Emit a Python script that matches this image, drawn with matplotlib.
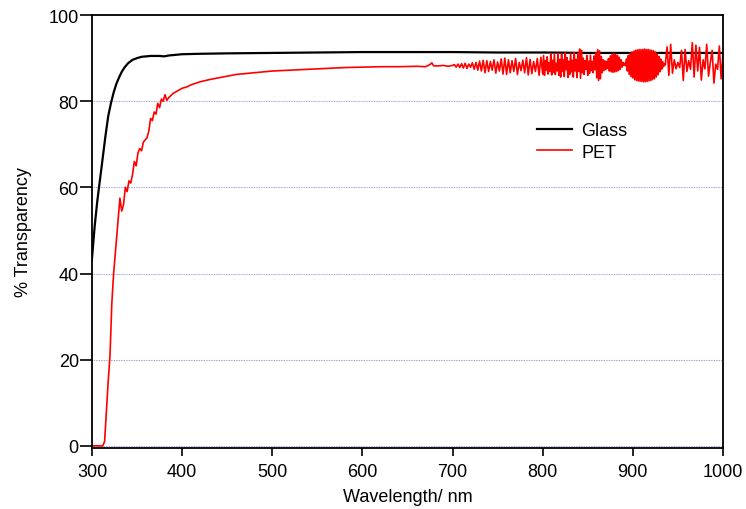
import numpy as np
import matplotlib
matplotlib.use("Agg")
import matplotlib.pyplot as plt

plt.rcParams['font.family'] = ['Liberation Sans', 'DejaVu Sans']

# glass substrate transmission
glass_wl = [300, 303, 306, 309, 312, 315, 318, 321, 324, 327, 330, 333, 336, 340,
            345, 350, 355, 360, 365, 370, 375, 380, 385, 390, 400, 420, 450, 500,
            550, 600, 650, 700, 750, 800, 850, 900, 950, 1000]
glass_t = [43.5, 51, 57, 62, 67, 72, 76.5, 79.5, 82, 84, 85.5, 86.8, 87.8, 88.8,
           89.6, 90.0, 90.3, 90.4, 90.5, 90.5, 90.5, 90.4, 90.6, 90.7, 90.9, 91.0,
           91.1, 91.2, 91.3, 91.4, 91.4, 91.4, 91.3, 91.3, 91.2, 91.2, 91.2, 91.2]

# PET film, UV edge and visible part
pet_wl_a = [300, 312, 314, 316, 318, 320, 322, 324, 326, 328, 330, 331, 333, 335,
            337, 339, 341, 343, 345, 347, 349, 351, 353, 355, 357, 359, 361, 363,
            365, 367, 369, 371, 373, 375, 377, 379, 381, 383, 385, 390, 395, 400,
            405, 410, 420, 430, 440, 450, 460, 470, 480, 490, 500, 520, 540, 560,
            580, 600, 620, 640, 660, 670, 675, 677, 679, 685, 690, 695, 700]
pet_t_a = [0, 0, 1, 8, 15, 21, 33, 40, 45, 50, 55, 57.5, 54.5, 56, 60, 59, 61.5,
           61, 63, 66, 65, 68, 69, 68.5, 70.5, 71, 71.5, 73, 76, 75.5, 77.5, 77,
           79.5, 78.5, 80.5, 80, 81.5, 80.2, 80.8, 81.8, 82.4, 83.0, 83.3, 83.8,
           84.5, 85.0, 85.4, 85.8, 86.2, 86.4, 86.6, 86.8, 87.0, 87.2, 87.4, 87.6,
           87.8, 87.9, 88.0, 88.0, 88.1, 88.0, 88.5, 88.9, 88.2, 88.2, 88.3, 88.1,
           88.3]

# PET film, interference fringes in the near IR
pet_wl_b = list(range(702, 801, 2))
pet_t_b = [88.5, 87.9, 88.6, 87.8, 88.7, 87.7, 88.8, 87.6, 88.6, 87.9,
           88.9, 87.4, 89.0, 87.2, 89.3, 87.0, 89.5, 86.6, 89.4, 86.9,
           89.2, 87.2, 89.6, 86.5, 89.1, 87.0, 89.8, 86.3, 90.0, 86.2,
           89.6, 86.6, 89.4, 86.9, 89.9, 86.2, 89.0, 87.1, 89.5, 86.6,
           90.1, 86.1, 89.7, 86.4, 89.2, 86.9, 89.9, 86.0, 90.2, 86.3]

pet_wl_c = list(range(801, 937))
pet_t_c = [90.6, 86.0, 89.4, 87.2, 90.3, 86.3, 88.9, 86.9, 91.0, 86.1,
           89.5, 86.7, 90.9, 86.2, 88.8, 87.0, 91.1, 86.0, 89.7, 85.6,
           91.0, 86.9, 89.6, 85.7, 91.2, 87.3, 90.1, 85.5, 89.3, 86.2,
           91.1, 86.8, 89.5, 85.6, 91.3, 87.0, 89.7, 85.5, 91.0, 86.9,
           92.1, 85.3, 91.8, 86.6, 90.0, 86.2, 89.4, 87.4, 90.6, 86.0,
           89.3, 86.5, 90.7, 87.1, 89.2, 86.6, 90.5, 87.3, 91.2, 85.4,
           92.0, 84.8, 91.7, 85.2, 90.4, 86.6, 89.6, 87.1, 89.4, 87.3,
           89.2, 87.6, 89.9, 87.0, 90.5, 86.8, 90.9, 86.7, 91.0, 86.8,
           90.9, 86.9, 90.6, 87.1, 90.2, 87.4, 89.6, 87.9, 89.0, 88.3,
           88.8, 88.2, 89.8, 87.0, 90.6, 86.2, 91.0, 85.7, 91.4, 85.4,
           91.6, 85.0, 91.8, 84.8, 91.9, 84.7, 92.0, 84.6, 92.0, 84.6,
           92.0, 84.5, 92.1, 84.5, 92.0, 84.6, 92.0, 84.7, 91.9, 84.8,
           91.8, 85.0, 91.7, 85.2, 91.4, 85.6, 91.0, 86.1, 90.4, 86.8,
           89.8, 87.4, 89.2, 88.0, 88.7, 88.4]

pet_wl_d = list(range(938, 1001, 2))
pet_t_d = [92.6, 86.0,
           93.2, 86.5, 89.6, 87.5, 89.0, 87.8, 91.8, 84.8, 92.0, 86.9,
           89.4, 87.4, 93.6, 85.6, 93.0, 87.0, 92.5, 84.9, 89.6, 87.5,
           93.2, 85.8, 89.0, 91.8, 84.2, 88.6, 87.4, 92.8, 85.2, 90.8]

pet_wl = pet_wl_a + pet_wl_b + pet_wl_c + pet_wl_d
pet_t = pet_t_a + pet_t_b + pet_t_c + pet_t_d

fig = plt.figure(figsize=(7.46, 5.10), dpi=100)
ax = fig.add_axes([0.1233, 0.1196, 0.8458, 0.849])

for y in [0, 20, 40, 60, 80, 100]:
    ax.axhline(y, color='#8080e0', lw=0.6, ls=(0, (1, 1)), zorder=0)

ax.plot(glass_wl, glass_t, color='black', lw=1.6, label='Glass')
ax.plot(pet_wl, pet_t, color='#ff0000', lw=1.2, label='PET')

ax.set_xlim(300, 1000)
ax.set_ylim(-0.5, 100)
ax.set_xticks(np.arange(300, 1001, 100))
ax.set_yticks(np.arange(0, 101, 20))
ax.tick_params(direction='out', width=1.2, labelsize=13, top=False, right=False)
ax.tick_params(axis='x', length=6, pad=4.5)
ax.tick_params(axis='y', length=8.5, pad=1)
for s in ax.spines.values():
    s.set_linewidth(1.3)

ax.set_xlabel('Wavelength/ nm', fontsize=13, labelpad=6)
ax.set_ylabel('% Transparency', fontsize=13, labelpad=12)

ax.legend(loc='upper left', bbox_to_anchor=(0.68, 0.79), frameon=False,
          fontsize=13, handlelength=1.95, handletextpad=0.5, labelspacing=0.25)

fig.savefig('out.png', dpi=100)
